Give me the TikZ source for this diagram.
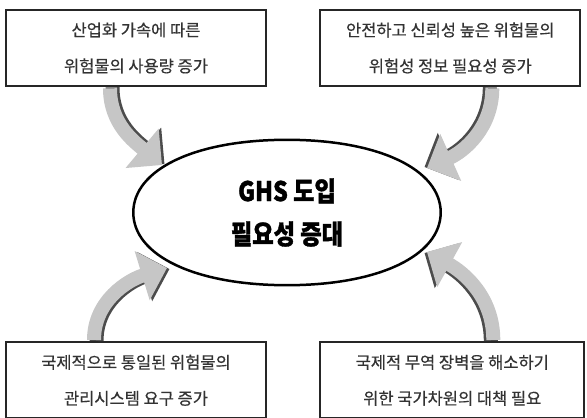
\documentclass[tikz,border=0pt]{standalone}
\usepackage{fontspec}
\usetikzlibrary{arrows.meta,calc,positioning,shapes.geometric}
\newfontfamily\krtext[FakeBold=0.4]{Noto Sans CJK KR}
\newfontfamily\krhead[FakeStretch=0.86,FakeBold=1.2]{Noto Sans CJK KR}
\tikzset{
  causebox/.style={draw=black!85, line width=2.3pt, fill=white, align=center, minimum width=260pt, minimum height=76pt, inner sep=0pt, text=black!80, font=\krtext\fontsize{16.5}{36}\selectfont},
  corebox/.style={ellipse, minimum width=307pt, minimum height=145pt, inner sep=0pt, align=center, font=\krhead\bfseries\fontsize{27}{43}\selectfont},
  rim/.style={line width=2.5pt, draw=black},
  push/.style={line width=14pt, draw=gray!45, shorten <=1.2pt, -{Triangle[width=50pt,length=26pt]}},
  pushshade/.style={push, draw=black!70, transform canvas={shift={#1}}}
}

\begin{document}
\begin{tikzpicture}[x=1pt, y=1pt, node distance=254pt and 52pt]
  \useasboundingbox (0,0) rectangle (587,418);
  \node[corebox] (ghs) at (287,205.5) {GHS 도입\\필요성 증대};
  \node[causebox] (tl) at (136,370) {산업화 가속에 따른\\위험물의 사용량 증가};
  \node[causebox, right=of tl] (tr) {안전하고 신뢰성 높은 위험물의\\위험성 정보 필요성 증가};
  \node[causebox, below=of tl] (bl) {국제적으로 통일된 위험물의\\관리시스템 요구 증가};
  \node[causebox, minimum width=264pt, right=of bl] (br) {국제적 무역 장벽을 해소하기\\위한 국가차원의 대책 필요};

  \draw[rim] (ghs.east) to[out=90, in=0, out distance=43pt, in distance=92pt] (ghs.north)
    to[out=180, in=90, out distance=92pt, in distance=43pt] (ghs.west)
    to[out=-90, in=180, out distance=43pt, in distance=92pt] (ghs.south)
    to[out=0, in=-90, out distance=92pt, in distance=43pt] (ghs.east);

  \coordinate (tipTL) at ($(ghs.center)+(-125,47.5)$);
  \coordinate (tipTR) at ($(ghs.center)+(140,44.5)$);
  \coordinate (tipBL) at ($(ghs.center)+(-120,-55.5)$);
  \coordinate (tipBR) at ($(ghs.center)+(140,-39.5)$);

  \draw[pushshade={(2.5pt,1pt)}] ([xshift=-26pt]tl.south) to[out=-90, in=140] (tipTL);
  \draw[push] ([xshift=-26pt]tl.south) to[out=-90, in=140] (tipTL);
  \draw[pushshade={(-2.5pt,1pt)}] ([xshift=42pt]tr.south) to[out=-90, in=24] (tipTR);
  \draw[push] ([xshift=42pt]tr.south) to[out=-90, in=24] (tipTR);
  \draw[pushshade={(2.5pt,-1pt)}] ([xshift=-42pt]bl.north) to[out=90, in=197] (tipBL);
  \draw[push] ([xshift=-42pt]bl.north) to[out=90, in=197] (tipBL);
  \draw[pushshade={(-2.5pt,-1pt)}] ([xshift=41pt]br.north) to[out=90, in=-29] (tipBR);
  \draw[push] ([xshift=41pt]br.north) to[out=90, in=-29] (tipBR);
\end{tikzpicture}
\end{document}
